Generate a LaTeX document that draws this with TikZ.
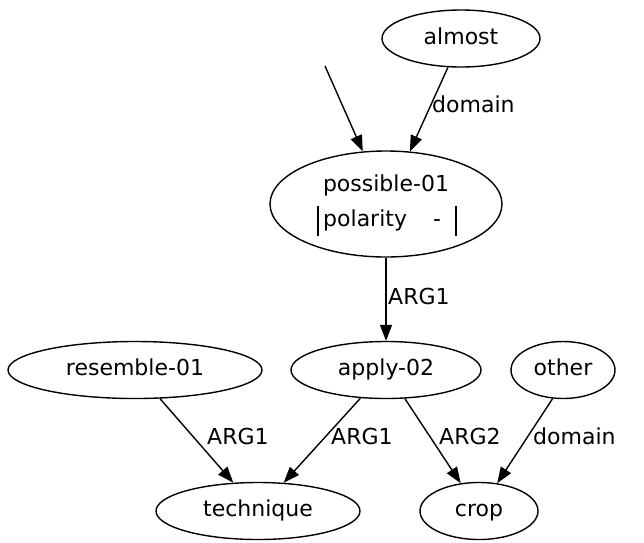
\documentclass[tikz,border=0pt]{standalone}
\usepackage{fontspec}
\setmainfont{DejaVu Sans}
\usetikzlibrary{arrows.meta,shapes.geometric}
\begin{document}
\begin{tikzpicture}[x=1pt,y=-1pt,
  every node/.style={font=\fontsize{22}{26}\selectfont},
  nd/.style={draw,ellipse,line width=1.4pt,inner sep=0pt,minimum height=57pt,text height=16pt,text depth=5pt},
  edge/.style={line width=1.4pt,-{Triangle[length=16pt,width=12pt]}},
  lbl/.style={anchor=west,inner sep=0pt,text height=16pt,text depth=5pt}]
\useasboundingbox (0,0) rectangle (644,542);
\node[nd,minimum width=158pt] (almost) at (461,38.5) {almost};
\node[nd,minimum width=232pt,minimum height=106pt] (possible) at (386,204) {};
\node[text height=16pt,text depth=5pt] (ptitle) at (386,186) {possible-01};
\node[anchor=base west,inner sep=0pt] (ppol) at (323,226) {polarity};
\node[anchor=base west,inner sep=0pt] (pval) at (433,226) {-};
\draw[line width=1.2pt] (318,206) -- (318,236) (456,206) -- (456,236);
\node[nd,minimum width=190pt] (apply) at (386,370) {apply-02};
\node[nd,minimum width=254pt] (resemble) at (135,370) {resemble-01};
\node[nd,minimum width=104pt] (other) at (563,370) {other};
\node[nd,minimum width=204pt] (technique) at (258,511) {technique};
\node[nd,minimum width=118pt] (crop) at (479,511) {crop};
\coordinate (free) at (325,66);
\draw[edge] (free) -- (possible);
\draw[edge] (almost) -- (possible);
\draw[edge] (possible) -- (apply);
\draw[edge] (resemble) -- (technique);
\draw[edge] (apply) -- (technique);
\draw[edge] (apply) -- (crop);
\draw[edge] (other.250) -- (crop);
\node[lbl] (l1) at (432,107) {domain};
\node[lbl] (l2) at (388,299) {ARG1};
\node[lbl] (l3) at (207,439) {ARG1};
\node[lbl] (l4) at (331,439) {ARG1};
\node[lbl] (l5) at (439,439) {ARG2};
\node[lbl] (l6) at (533,439) {domain};
\end{tikzpicture}
\end{document}
